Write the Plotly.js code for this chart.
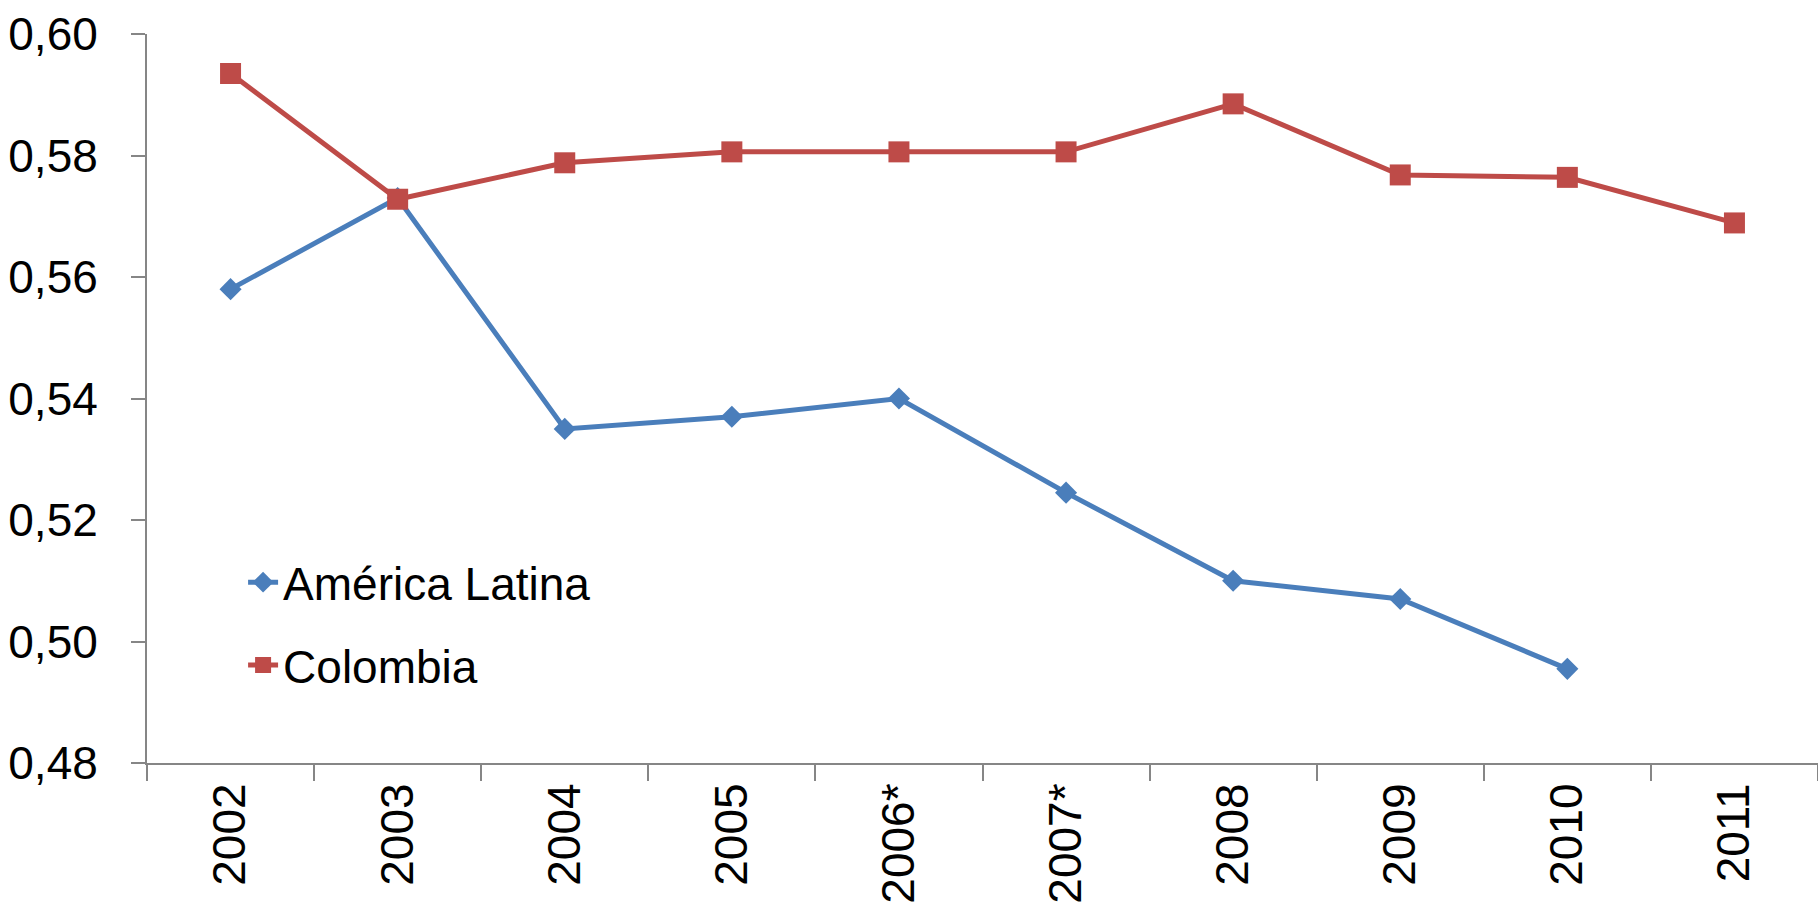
<!DOCTYPE html>
<html>
<head>
<meta charset="utf-8">
<script src="https://cdn.plot.ly/plotly-3.0.1.min.js"></script>
<style>
html,body{margin:0;padding:0;background:#fff;}
#chart{width:1818px;height:911px;}
</style>
</head>
<body>
<div id="chart"></div>
<script>
const years = ["2002","2003","2004","2005","2006*","2007*","2008","2009","2010","2011"];
const americaLatina = [0.558, 0.573, 0.535, 0.537, 0.540, 0.5245, 0.510, 0.507, 0.4955, null];
const colombia = [0.5935, 0.5728, 0.5788, 0.5806, 0.5806, 0.5806, 0.5885, 0.5768, 0.5764, 0.5689];
const yTicks = [0.48, 0.50, 0.52, 0.54, 0.56, 0.58, 0.60];
const yTickText = ["0,48","0,50","0,52","0,54","0,56","0,58","0,60"];

const FONT = '"Liberation Sans", Arial, sans-serif';

const traces = [
  {
    x: years, y: americaLatina, name: "América Latina", type: "scatter", mode: "lines+markers",
    legendgroup: "a",
    line: {color: "#4A7EBB", width: 5},
    marker: {symbol: "diamond", size: 17, color: "#4A7EBB"}
  },
  {
    x: years, y: colombia, name: "Colombia", type: "scatter", mode: "lines+markers",
    legendgroup: "b",
    line: {color: "#BE4B48", width: 5},
    marker: {symbol: "square", size: 21, color: "#BE4B48"}
  }
];

const layout = {
  width: 1818, height: 911,
  margin: {l: 147, r: 0, t: 34, b: 148},
  paper_bgcolor: "#fff", plot_bgcolor: "#fff",
  font: {family: FONT, size: 46, color: "#000"},
  showlegend: true,
  legend: {
    x: 0.0575, y: 0.298, xanchor: "left", yanchor: "top",
    bgcolor: "rgba(0,0,0,0)", tracegroupgap: 20,
    font: {family: FONT, size: 46, color: "#000"}
  },
  xaxis: {
    type: "category",
    range: [-0.5, 9.5],
    tickson: "boundaries",
    ticks: "outside", ticklen: 16, tickcolor: "#868686", tickwidth: 2,
    showline: true, linecolor: "#868686", linewidth: 2,
    showgrid: false, zeroline: false,
    tickangle: -90,
    tickfont: {family: FONT, size: 46, color: "#000"}
  },
  yaxis: {
    range: [0.48, 0.60],
    tickvals: yTicks, ticktext: yTickText,
    ticks: "outside", ticklen: 14, tickcolor: "#868686", tickwidth: 2,
    showline: true, linecolor: "#868686", linewidth: 2,
    showgrid: false, zeroline: false,
    ticklabelstandoff: 24,
    tickfont: {family: FONT, size: 46, color: "#000"}
  }
};

Plotly.newPlot("chart", traces, layout, {displayModeBar: false, staticPlot: true});
</script>
</body>
</html>
